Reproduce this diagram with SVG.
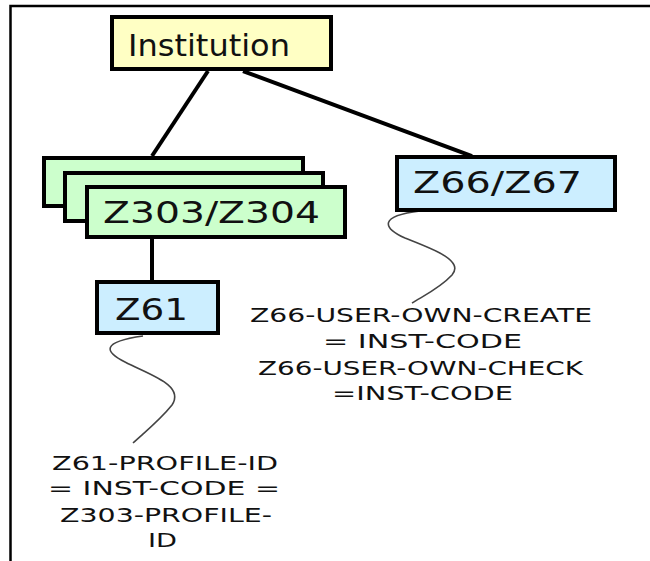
<svg xmlns="http://www.w3.org/2000/svg" width="650" height="561" viewBox="0 0 650 561">
<style>
.box{stroke:#000;stroke-width:4}
.yel{fill:#ffffc4}
.grn{fill:#ccffcc}
.blu{fill:#cceeff}
.lbl{font-family:"DejaVu Sans",Verdana,sans-serif;fill:#111}
.big{font-size:31px}
.note{font-size:20px;text-anchor:middle}
.edge{stroke:#000;stroke-width:4;fill:none}
.wave{stroke:#444;stroke-width:1.6;fill:none}
</style>
<rect x="0" y="0" width="650" height="561" fill="#fff"/>
<path d="M10.5 561 V6 H650" stroke="#000" stroke-width="2.5" fill="none"/>
<g id="connectors">
<line class="edge" x1="208" y1="71" x2="152" y2="156"/>
<line class="edge" x1="243" y1="71" x2="472" y2="156"/>
<line class="edge" x1="152" y1="239" x2="152" y2="281"/>
<path class="wave" d="M143 336 C100 342 105 352 125 362 C150 375 185 385 172 405 C160 420 145 432 133 443"/>
<path class="wave" d="M420 211 C378 216 383 228 405 238 C430 248 465 260 452 275 C440 288 425 295 412 303"/>
</g>
<g id="institution">
<rect class="box yel" x="112" y="17" width="219" height="52"/>
<text class="lbl big" x="128" y="56" textLength="162" lengthAdjust="spacingAndGlyphs">Institution</text>
</g>
<g id="z303">
<rect class="box grn" x="44" y="158" width="259" height="48"/>
<rect class="box grn" x="65" y="173" width="258" height="48"/>
<rect class="box grn" x="87" y="187" width="258" height="50"/>
<text class="lbl big" x="103" y="223" textLength="217" lengthAdjust="spacingAndGlyphs">Z303/Z304</text>
</g>
<g id="z61">
<rect class="box blu" x="97" y="282" width="121" height="51"/>
<text class="lbl big" x="115" y="320" textLength="73" lengthAdjust="spacingAndGlyphs">Z61</text>
</g>
<g id="z66">
<rect class="box blu" x="397" y="157" width="218" height="53"/>
<text class="lbl big" x="413" y="193" textLength="169" lengthAdjust="spacingAndGlyphs">Z66/Z67</text>
</g>
<g id="notes">
<text class="lbl note" x="421" y="322" textLength="342" lengthAdjust="spacingAndGlyphs">Z66-USER-OWN-CREATE</text>
<text class="lbl note" x="422.5" y="348" textLength="199" lengthAdjust="spacingAndGlyphs">=  INST-CODE</text>
<text class="lbl note" x="420.5" y="375" textLength="325" lengthAdjust="spacingAndGlyphs">Z66-USER-OWN-CHECK</text>
<text class="lbl note" x="422.5" y="400" textLength="181" lengthAdjust="spacingAndGlyphs">=INST-CODE</text>
<text class="lbl note" x="165" y="470" textLength="226" lengthAdjust="spacingAndGlyphs">Z61-PROFILE-ID</text>
<text class="lbl note" x="164" y="495" textLength="232" lengthAdjust="spacingAndGlyphs">=  INST-CODE =</text>
<text class="lbl note" x="166" y="522" textLength="212" lengthAdjust="spacingAndGlyphs">Z303-PROFILE-</text>
<text class="lbl note" x="162.5" y="547" textLength="29" lengthAdjust="spacingAndGlyphs">ID</text>
</g>
</svg>
